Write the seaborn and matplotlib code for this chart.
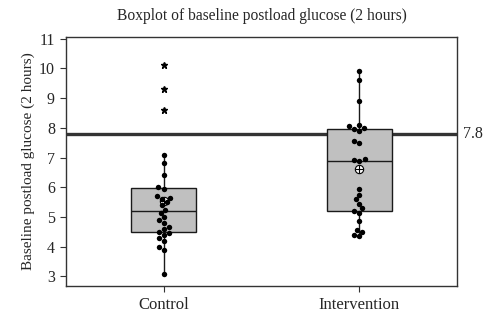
import numpy as np
import pandas as pd
import matplotlib
matplotlib.use("Agg")
import matplotlib.pyplot as plt
import seaborn as sns

# ---- data ----
groups = ["Control", "Intervention"]
control_values = [3.1, 3.9, 4.0, 4.2, 4.3, 4.4, 4.45, 4.5, 4.6, 4.65, 4.8, 4.9,
                  5.0, 5.15, 5.25, 5.4, 5.5, 5.6, 5.65, 5.7, 5.95, 6.0, 6.4,
                  6.8, 7.1, 8.6, 9.3, 10.1]
intervention_values = [4.35, 4.4, 4.5, 4.55, 4.85, 5.15, 5.2, 5.3, 5.45, 5.6,
                       5.75, 5.95, 6.88, 6.9, 6.95, 7.5, 7.55, 7.9, 7.95, 8.0,
                       8.05, 8.1, 8.9, 9.6, 9.9]
reference_value = 7.8
title = "Boxplot of baseline postload glucose (2 hours)"
ylabel = "Baseline postload glucose (2 hours)"
yticks = [3, 4, 5, 6, 7, 8, 9, 10, 11]

df = pd.DataFrame({
    "group": ["Control"] * len(control_values) + ["Intervention"] * len(intervention_values),
    "value": control_values + intervention_values,
})

# points that are not outliers (1.5 IQR rule) get drawn as dots
def inliers(v):
    v = np.asarray(v)
    q1, q3 = np.percentile(v, [25, 75])
    iqr = q3 - q1
    return (v >= q1 - 1.5 * iqr) & (v <= q3 + 1.5 * iqr)

mask = np.concatenate([inliers(control_values), inliers(intervention_values)])
df_in = df[mask]

sns.set_style("ticks")
plt.rcParams["font.family"] = ["Liberation Serif", "DejaVu Serif"]

fig = plt.figure(figsize=(5.0, 3.28), dpi=100)
ax = fig.add_axes([0.132, 0.128, 0.782, 0.759])

sns.boxplot(data=df, x="group", y="value", order=groups, ax=ax,
            width=0.335, color="#c0c0c0", linecolor="#1a1a1a", linewidth=1.0,
            showcaps=False, saturation=1,
            flierprops=dict(marker="*", markersize=4.5, markerfacecolor="black",
                            markeredgecolor="black"),
            showmeans=True,
            meanprops=dict(marker="o", markersize=6, markerfacecolor="white",
                           markeredgecolor="black", markeredgewidth=0.8))

# cross inside the mean marker
means = df.groupby("group")["value"].mean().reindex(groups)
for i, m in enumerate(means):
    ax.plot([i], [m], marker="+", markersize=6, color="black", mew=0.8, zorder=2.5)

sns.swarmplot(data=df_in, x="group", y="value", order=groups, ax=ax,
              color="black", size=3.9, zorder=3)

ax.axhline(reference_value, color="#333333", linewidth=2.4, zorder=1.5)
ax.text(1.015, reference_value, f"{reference_value}", transform=ax.get_yaxis_transform(),
        ha="left", va="center", fontsize=11.5)

ax.set_xlim(-0.5, 1.5)
ax.set_ylim(2.68, 11.05)
ax.set_yticks(yticks)
ax.set_yticklabels([str(t) for t in yticks], fontsize=11.5)
ax.set_xticks(range(len(groups)))
ax.set_xticklabels(groups, fontsize=12)
ax.set_xlabel("")
ax.set_ylabel(ylabel, fontsize=11, labelpad=3)
ax.set_title(title, fontsize=11.2, pad=12)

for s in ax.spines.values():
    s.set_visible(True)
    s.set_color("#333333")
    s.set_linewidth(1.0)
ax.tick_params(axis="both", direction="out", length=4, width=0.8, color="#333333",
               pad=4)

fig.savefig("out.png", dpi=100)
